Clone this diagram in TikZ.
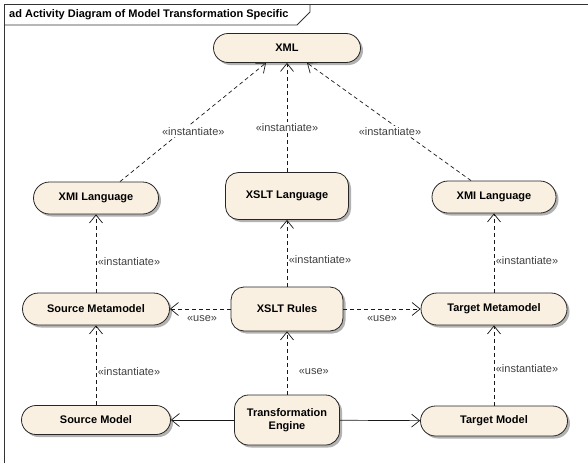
\documentclass[tikz,border=0pt]{standalone}
\usepackage{fontspec}
\setmainfont{Liberation Sans}
\usetikzlibrary{positioning,arrows.meta,shadows}
\definecolor{actfill}{RGB}{249,240,226}

\tikzset{
  act/.style={draw=black!85, fill=actfill, line width=0.8pt, font=\fontsize{11}{13}\selectfont\bfseries,
    align=center, inner sep=0pt,
    drop shadow={shadow xshift=2.5pt, shadow yshift=-2.5pt, fill=black!30, opacity=1}},
  pill/.style={act, rounded corners=#1, minimum height=2*#1},
  dep/.style={draw=black!90, line width=0.7pt, dash pattern=on 4pt off 3pt,
    -{Straight Barb[length=8pt,width=13pt,line width=0.7pt]}},
  assoc/.style={draw=black!90, line width=0.7pt, -{Straight Barb[length=8pt,width=13pt,line width=0.7pt]}},
  lbl/.style={font=\fontsize{11}{13}\selectfont, text=black!75, inner sep=1.5pt}
}

\begin{document}
\begin{tikzpicture}[x=1pt, y=-1pt, on grid]
  \useasboundingbox (0,0) rectangle (588,463);
  % frame of the diagram
  \draw[black!80, line width=1pt] (4,463) -- (4,4) -- (588,4);
  \node[font=\fontsize{11}{13}\selectfont\bfseries, anchor=west, inner sep=0pt] (title) at (9,14.5)
    {ad Activity Diagram of Model Transformation Specific};
  \draw[black!80, line width=0.8pt] (4,25) -- (297,25) -- (310,12) -- (310,4);

  % activities
  \node[act, rounded corners=13pt, minimum width=112pt, minimum height=44pt] (rules) at (287,309) {XSLT Rules};
  \node[act, rounded corners=13pt, minimum width=123pt, minimum height=47pt, above=113pt of rules] (xsltlang) {XSLT Language};
  \node[pill=14.5pt, minimum width=147pt, above=261pt of rules] (xml) {XML};
  \node[pill=16pt, minimum width=147pt, left=191pt of rules] (srcmeta) {Source Metamodel};
  \node[pill=16pt, minimum width=146pt, right=207pt of rules] (tgtmeta) {Target Metamodel};
  \node[pill=16pt, minimum width=125pt, above=111pt of srcmeta] (xmil) {XMI Language};
  \node[pill=16pt, minimum width=124pt, above=112pt of tgtmeta] (xmir) {XMI Language};
  \node[act, rounded corners=14pt, minimum width=105pt, minimum height=50pt, below=111pt of rules] (engine) {Transformation\\Engine};
  \node[pill=14.5pt, minimum width=149pt, below=111pt of srcmeta] (srcmodel) {Source Model};
  \node[pill=15pt, minimum width=147pt, below=112pt of tgtmeta] (tgtmodel) {Target Model};

  % dependencies
  \draw[dep] ([xshift=24pt]xmil.north) -- node[lbl, pos=0.42, xshift=12pt, fill=white] {«instantiate»} ([xshift=-21pt]xml.south);
  \draw[dep] (xsltlang) -- node[lbl, pos=0.41, fill=white] {«instantiate»} (xml);
  \draw[dep] ([xshift=-23pt]xmir.north) -- node[lbl, pos=0.415, xshift=-13pt, fill=white] {«instantiate»} ([xshift=20pt]xml.south);
  \draw[dep] (srcmeta) -- node[lbl, right, pos=0.4] {«instantiate»} (xmil);
  \draw[dep] (rules) -- node[lbl, right, pos=0.4] {«instantiate»} (xsltlang);
  \draw[dep] (tgtmeta) -- node[lbl, right, pos=0.4] {«instantiate»} (xmir);
  \draw[dep] (rules) -- node[lbl, below, pos=0.47, yshift=-4.5pt] {«use»} (srcmeta);
  \draw[dep] (rules) -- node[lbl, below, pos=0.5, yshift=-4.5pt] {«use»} (tgtmeta);
  \draw[dep] (srcmodel) -- node[lbl, right, pos=0.42] {«instantiate»} (srcmeta);
  \draw[dep] (engine) -- node[lbl, right, pos=0.37, xshift=10pt] {«use»} (rules);
  \draw[dep] (tgtmodel) -- node[lbl, right, pos=0.46] {«instantiate»} (tgtmeta);
  \draw[assoc] (engine) -- (srcmodel);
  \draw[assoc] (engine) -- (tgtmodel);
\end{tikzpicture}
\end{document}
